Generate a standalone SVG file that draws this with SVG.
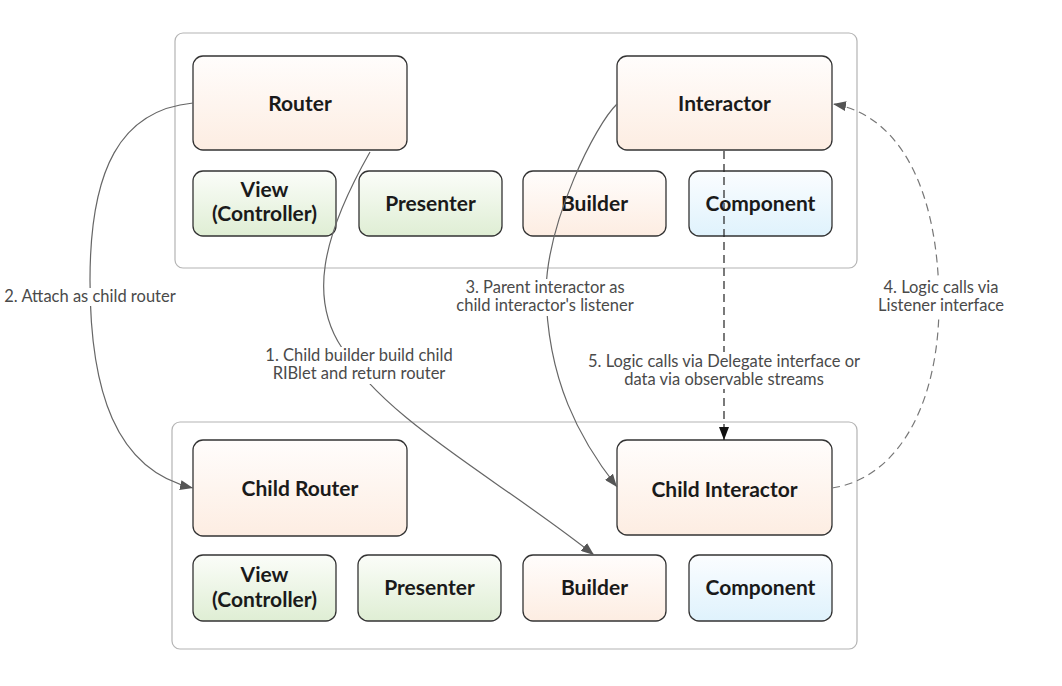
<svg xmlns="http://www.w3.org/2000/svg" width="1062" height="686" viewBox="0 0 1062 686">
<defs>
<linearGradient id="gOr" x1="0" y1="0" x2="0" y2="1"><stop offset="0" stop-color="#fffdfc"/><stop offset="1" stop-color="#fdede2"/></linearGradient>
<linearGradient id="gGr" x1="0" y1="0" x2="0" y2="1"><stop offset="0" stop-color="#fbfdf9"/><stop offset="1" stop-color="#dfeed4"/></linearGradient>
<linearGradient id="gBl" x1="0" y1="0" x2="0" y2="1"><stop offset="0" stop-color="#fbfdff"/><stop offset="1" stop-color="#dff2fc"/></linearGradient>
<marker id="aGray" viewBox="0 0 13 10" refX="13" refY="5" markerWidth="13" markerHeight="10" markerUnits="userSpaceOnUse" orient="auto"><path d="M0,0 L13,5 L0,10 Z" fill="#555"/></marker>
<marker id="aBlack" viewBox="0 0 13 10" refX="13" refY="5" markerWidth="13" markerHeight="10" markerUnits="userSpaceOnUse" orient="auto"><path d="M0,0 L13,5 L0,10 Z" fill="#111"/></marker>
</defs>
<style>
.cont{fill:#fff;stroke:#b4b4b4;stroke-width:1.2}
.node{stroke:#333;stroke-width:1.3}
.or{fill:url(#gOr)}
.gr{fill:url(#gGr)}
.bl{fill:url(#gBl)}
.nt{font-family:Lato,"Open Sans","Liberation Sans",sans-serif;font-weight:bold;font-size:21px;fill:#1a1a1a;text-anchor:middle}
.lt{font-family:Lato,"Open Sans","Liberation Sans",sans-serif;font-size:16.5px;fill:#4a4a4a;text-anchor:middle}
.bg{fill:#fff}
.c{fill:none;stroke:#666;stroke-width:1.2}
.dg{fill:none;stroke:#777;stroke-width:1.2;stroke-dasharray:8 5}
.dk{fill:none;stroke:#222;stroke-width:1.2;stroke-dasharray:8 5}
</style>
<rect width="1062" height="686" fill="#fff"/>
<g id="parent">
<rect class="cont" x="175" y="33" width="682" height="235" rx="8"/>
</g>
<g id="child">
<rect class="cont" x="172" y="422" width="685" height="227" rx="8"/>
</g>
<g id="p-router"><rect class="node or" x="193" y="56" width="214" height="94" rx="10"/><text class="nt" x="300" y="111">Router</text></g>
<g id="p-view"><rect class="node gr" x="193" y="171" width="143" height="65" rx="10"/><text class="nt" x="264.5" y="197">View</text><text class="nt" x="264.5" y="221">(Controller)</text></g>
<g id="p-presenter"><rect class="node gr" x="359" y="171" width="143" height="65" rx="10"/><text class="nt" x="430.5" y="211">Presenter</text></g>
<g id="p-interactor"><rect class="node or" x="617" y="56" width="215" height="94" rx="10"/><text class="nt" x="724.5" y="111">Interactor</text></g>
<g id="p-builder"><rect class="node or" x="523" y="171" width="143" height="65" rx="10"/><text class="nt" x="594.5" y="211">Builder</text></g>
<g id="p-component"><rect class="node bl" x="689" y="171" width="143" height="65" rx="10"/><text class="nt" x="760.5" y="211">Component</text></g>
<g id="c-router"><rect class="node or" x="193" y="440" width="214" height="96" rx="10"/><text class="nt" x="300" y="496">Child Router</text></g>
<g id="c-view"><rect class="node gr" x="193" y="555" width="143" height="66" rx="10"/><text class="nt" x="264.5" y="582">View</text><text class="nt" x="264.5" y="607">(Controller)</text></g>
<g id="c-presenter"><rect class="node gr" x="358" y="555" width="143" height="66" rx="10"/><text class="nt" x="429.5" y="595">Presenter</text></g>
<g id="c-interactor"><rect class="node or" x="617" y="440" width="215" height="95" rx="10"/><text class="nt" x="724.5" y="497">Child Interactor</text></g>
<g id="c-builder"><rect class="node or" x="523" y="555" width="143" height="66" rx="10"/><text class="nt" x="594.5" y="595">Builder</text></g>
<g id="c-component"><rect class="node bl" x="689" y="555" width="143" height="66" rx="10"/><text class="nt" x="760.5" y="595">Component</text></g>
<g id="connectors">
<path class="c" d="M193,103 C120,110 90,170 90,280 C90,390 115,470 193,488" marker-end="url(#aGray)"/>
<path class="c" d="M370,152 C320,240 310,300 342,348 C385,420 500,480 594,555" marker-end="url(#aGray)"/>
<path class="c" d="M617,104 C595,125 548,220 546,290 C547,380 580,440 617,487" marker-end="url(#aGray)"/>
<path class="dg" d="M832,488 C900,478 940,400 939,300 C938,190 900,115 833,104" marker-end="url(#aGray)"/>
<path class="dk" d="M724,151 L724,440" marker-end="url(#aBlack)"/>
</g>
<g id="labels">
<rect class="bg" x="4" y="288" width="174" height="18"/>
<text class="lt" x="90" y="302">2. Attach as child router</text>
<rect class="bg" x="258" y="347" width="202" height="37"/>
<text class="lt" x="359" y="361">1. Child builder build child</text>
<text class="lt" x="359" y="379">RIBlet and return router</text>
<rect class="bg" x="455" y="279" width="180" height="37"/>
<text class="lt" x="545" y="293">3. Parent interactor as</text>
<text class="lt" x="545" y="311">child interactor's listener</text>
<rect class="bg" x="876" y="279" width="130" height="37"/>
<text class="lt" x="941" y="293">4. Logic calls via</text>
<text class="lt" x="941" y="311">Listener interface</text>
<rect class="bg" x="586" y="352" width="276" height="37"/>
<text class="lt" x="724" y="367">5. Logic calls via Delegate interface or</text>
<text class="lt" x="724" y="385">data via observable streams</text>
</g>
</svg>
